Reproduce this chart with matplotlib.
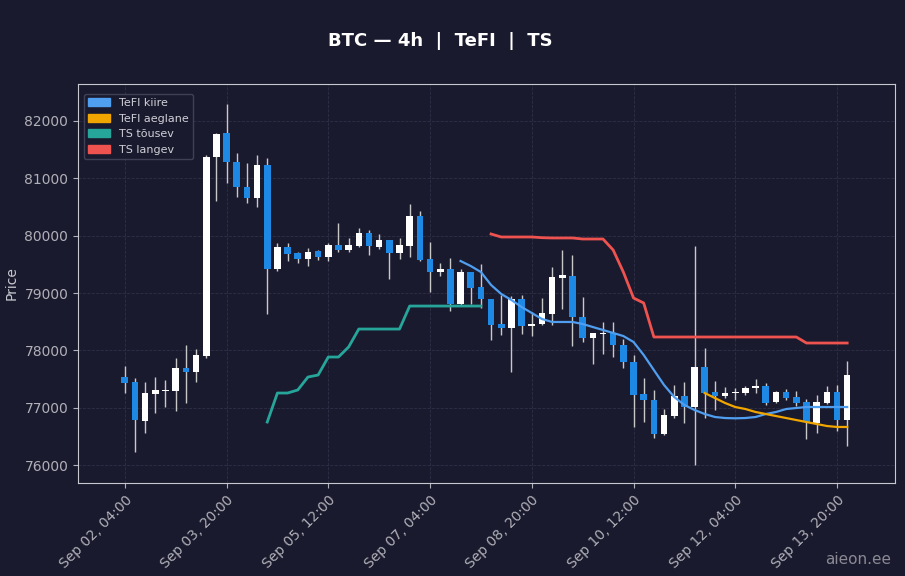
import matplotlib
matplotlib.use("Agg")
import matplotlib.pyplot as plt
import matplotlib.dates as mdates
from matplotlib.patches import Patch
import pandas as pd
import numpy as np

# 4h candles, Sep 02 04:00 -> Sep 13 20:00
times = pd.date_range("2025-09-02 04:00", periods=72, freq="4h")

opens = [77535, 77448, 76768, 77239, 77290, 77291, 77692, 77623, 77902, 81372,
         81790, 81285, 80849, 80657, 81233, 79419, 79803, 79698, 79593, 79733,
         79628, 79837, 79750, 79820, 80047, 79803, 79925, 79698, 79820, 80343,
         79593, 79366, 79419, 78808, 79366, 79105, 78896, 78460, 78390, 78896,
         78425, 78460, 78634, 79262, 79297, 78582, 78215, 78285, 78303, 78093,
         77797, 77239, 77134, 76541, 76855, 77204, 77012, 77710, 77274, 77204,
         77256, 77256, 77344, 77379, 77099, 77274, 77187, 77099, 76733, 77082,
         77274, 76786]
closes = [77430, 76785, 77256, 77309, 77305, 77692, 77623, 77919, 81372, 81773,
          81285, 80849, 80657, 81233, 79419, 79803, 79680, 79593, 79715, 79628,
          79837, 79750, 79837, 80047, 79820, 79925, 79698, 79837, 80343, 79576,
          79366, 79419, 78808, 79366, 79088, 78896, 78442, 78390, 78896, 78425,
          78460, 78652, 79280, 79314, 78582, 78215, 78303, 78303, 78093, 77797,
          77221, 77134, 76541, 76873, 77204, 77012, 77710, 77256, 77204, 77256,
          77265, 77344, 77379, 77082, 77274, 77169, 77082, 76750, 77099, 77274,
          76786, 77570]
highs = [77727, 77518, 77448, 77535, 77483, 77867, 78093, 78023, 81407, 81790,
         82296, 81442, 81268, 81407, 81355, 79872, 79872, 79715, 79785, 79750,
         79872, 80221, 79960, 80134, 80099, 80029, 79925, 79960, 80552, 80430,
         79890, 79523, 79611, 79420, 79366, 79506, 78896, 78966, 78948, 78966,
         78669, 78913, 79454, 79750, 79663, 78930, 78303, 78495, 78495, 78198,
         77919, 77518, 77309, 76977, 77396, 77448, 79820, 78041, 77466, 77361,
         77344, 77379, 77500, 77431, 77290, 77326, 77291, 77152, 77222, 77379,
         77396, 77814]
lows = [77256, 76227, 76559, 76907, 77012, 76942, 77082, 77448, 77867, 80605,
        80919, 80675, 80570, 80500, 78634, 79384, 79558, 79523, 79471, 79576,
        79558, 79715, 79715, 79800, 79663, 79768, 79245, 79593, 79628, 79558,
        79018, 79297, 78686, 78790, 78808, 78739, 78180, 78268, 77622, 78285,
        78250, 78442, 78442, 78721, 78076, 78146, 77762, 77936, 77884, 77692,
        76664, 76750, 76472, 76524, 76820, 76733, 76000, 76820, 76960, 77169,
        77134, 77222, 77256, 77047, 77082, 77134, 77030, 76455, 76559, 77064,
        76594, 76332]

# TS tõusev: candles 14..35
ts_up_start = 14
ts_up = [76750, 77256, 77256, 77309, 77535, 77570, 77884, 77884, 78059, 78372,
         78372, 78372, 78372, 78372, 78773, 78773, 78773, 78773, 78773, 78773,
         78773, 78773]
# TS langev: candles 36..71
ts_down_start = 36
ts_down = [80029, 79977, 79977, 79977, 79977, 79965, 79960, 79960, 79960, 79942,
           79942, 79942, 79750, 79366, 78913, 78826, 78233, 78233, 78233, 78233,
           78233, 78233, 78233, 78233, 78233, 78233, 78233, 78233, 78233, 78233,
           78233, 78128, 78128, 78128, 78128, 78128]
# TeFI kiire: candles 33..71
tefi_fast_start = 33
tefi_fast = [79558, 79471, 79366, 79140, 78983, 78878, 78756, 78652, 78547, 78495,
             78495, 78495, 78460, 78407, 78355, 78303, 78250, 78146, 77919, 77657,
             77396, 77187, 77047, 76960, 76890, 76838, 76820, 76815, 76820, 76838,
             76890, 76925, 76977, 76995, 77012, 77012, 77012, 77012, 77012]
# TeFI aeglane: candles 57..71
tefi_slow_start = 57
tefi_slow = [77256, 77169, 77082, 77012, 76977, 76925, 76890, 76855, 76820, 76785,
             76750, 76716, 76681, 76664, 76664]

tick_labels = ["Sep 02, 04:00", "Sep 03, 20:00", "Sep 05, 12:00", "Sep 07, 04:00",
               "Sep 08, 20:00", "Sep 10, 12:00", "Sep 12, 04:00", "Sep 13, 20:00"]

BG = "#1a1a2e"
UP = "#ffffff"
DOWN = "#1e88e5"
FAST = "#4f9ef0"
SLOW = "#f0a500"
TS_UP = "#26a69a"
TS_DOWN = "#ef5350"

fig = plt.figure(figsize=(9.05, 5.76), dpi=100, facecolor=BG)
ax = fig.add_axes([78 / 905, 1 - 483 / 576, 817 / 905, 399 / 576], facecolor=BG)

xn = mdates.date2num(times)
step = xn[1] - xn[0]
w = step * 0.65
for i in range(len(times)):
    o, c, h, l = opens[i], closes[i], highs[i], lows[i]
    col = UP if c >= o else DOWN
    ax.vlines(xn[i], l, h, color="#c8c8c8", lw=1, zorder=2)
    ax.bar(xn[i], max(abs(c - o), 12), bottom=min(o, c), width=w, color=col, zorder=3)

ax.plot(xn[ts_up_start:ts_up_start + len(ts_up)], ts_up, color=TS_UP, lw=2, zorder=4)
ax.plot(xn[ts_down_start:ts_down_start + len(ts_down)], ts_down, color=TS_DOWN, lw=2, zorder=4)
ax.plot(xn[tefi_fast_start:tefi_fast_start + len(tefi_fast)], tefi_fast, color=FAST, lw=1.6, zorder=4)
ax.plot(xn[tefi_slow_start:tefi_slow_start + len(tefi_slow)], tefi_slow, color=SLOW, lw=1.6, zorder=4)

ax.set_xlim(xn[0] - 4.6 * step, xn[0] + 75.7 * step)
ax.set_ylim(75687, 82645)
ax.set_yticks(range(76000, 82001, 1000))
ax.set_xticks(xn[::10])
ax.set_xticklabels(tick_labels, rotation=45, ha="right", rotation_mode="anchor")
ax.tick_params(colors="#b0b0b8", labelsize=10)
ax.grid(True, color="#34344e", ls="--", lw=0.6, alpha=0.8)
ax.set_axisbelow(True)
for s in ax.spines.values():
    s.set_color("#c8c8d0")
ax.set_ylabel("Price", color="#c8c8d0", fontsize=10)

handles = [Patch(color=FAST, label="TeFI kiire"), Patch(color=SLOW, label="TeFI aeglane"),
           Patch(color=TS_UP, label="TS tõusev"), Patch(color=TS_DOWN, label="TS langev")]
leg = ax.legend(handles=handles, loc="upper left", fontsize=8, facecolor=BG,
                edgecolor="#44445a", labelcolor="#d0d0d8", framealpha=0.9,
                bbox_to_anchor=(0.0, 0.99))

fig.text(0.487, 0.92, "BTC — 4h  |  TeFI  |  TS", color="white", fontsize=13,
         fontweight="bold", ha="center")
fig.text(0.985, 0.02, "aieon.ee", color="#8a8a95", fontsize=11, ha="right")

fig.savefig("out.png", dpi=100, facecolor=BG)
